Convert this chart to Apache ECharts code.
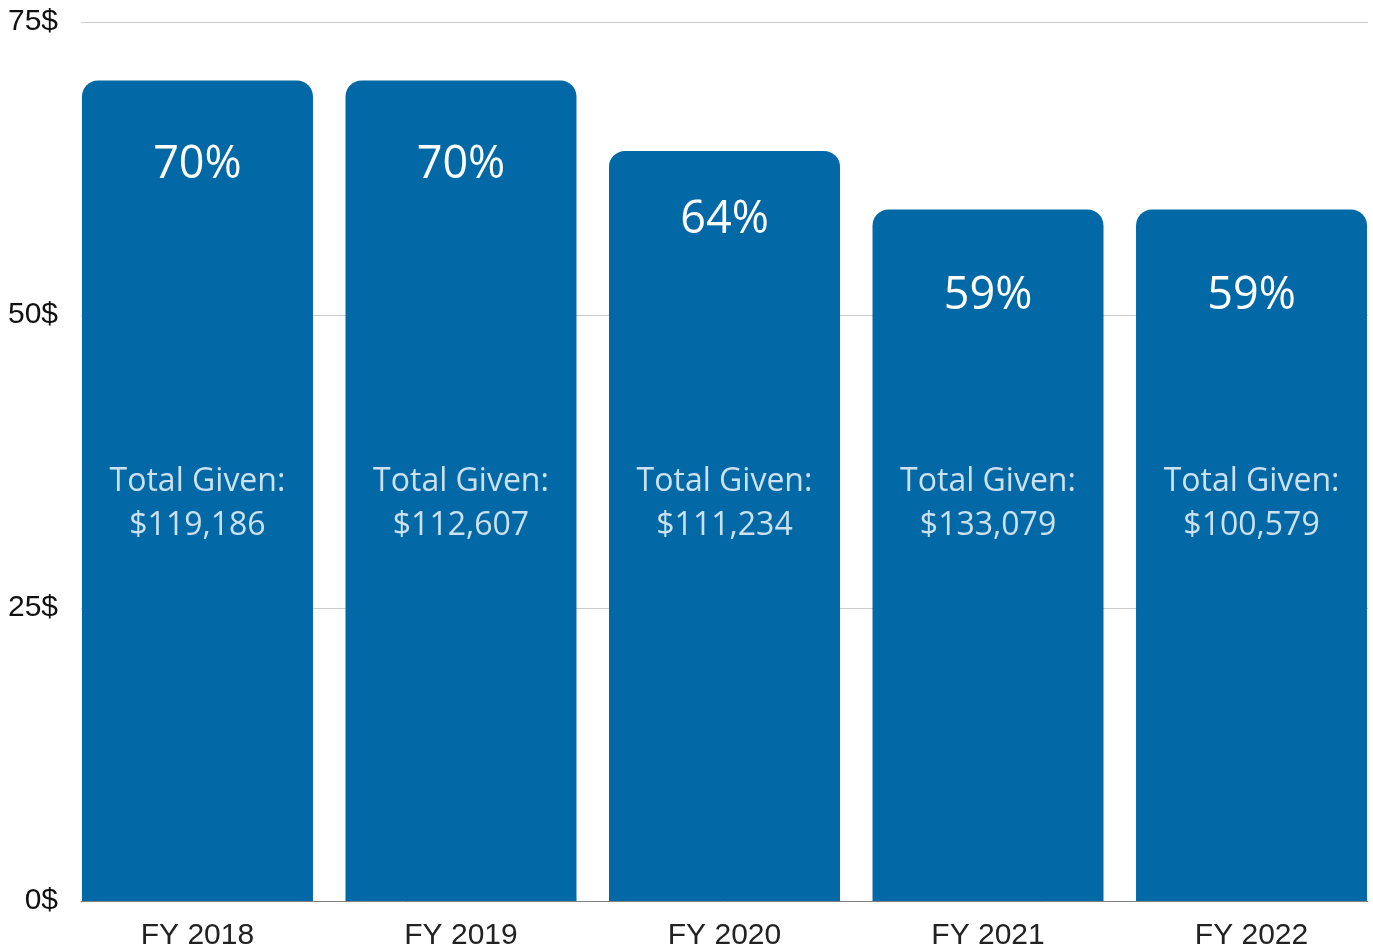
<!DOCTYPE html>
<html>
<head>
<meta charset="utf-8">
<script src="https://cdn.jsdelivr.net/npm/echarts@6/dist/echarts.min.js"></script>
<style>
html,body{margin:0;padding:0;background:#fff;}
#chart{width:1373px;height:947px;}
</style>
</head>
<body>
<div id="chart"></div>
<script>
const categories = ['FY 2018', 'FY 2019', 'FY 2020', 'FY 2021', 'FY 2022'];
const percentValues = [70, 70, 64, 59, 59];
const totalsGiven = ['$119,186', '$112,607', '$111,234', '$133,079', '$100,579'];
const yTicks = [0, 25, 50, 75];

const labelDistances = [62, 62, 46, 64, 64];
const totalAnchor = 33.85;

const chart = echarts.init(document.getElementById('chart'));
const idx = categories.map((c, i) => i);
chart.setOption({
  animation: false,
  grid: { left: 81, right: 5, top: 22, bottom: 46, outerBoundsMode: 'none', containLabel: false },
  xAxis: {
    type: 'value', min: -0.442, max: 4.442,
    splitLine: { show: false },
    axisLine: { show: true, lineStyle: { color: '#808080', width: 1 } },
    axisTick: { show: false },
    axisLabel: {
      customValues: idx,
      formatter: v => categories[Math.round(v)] || '',
      color: '#222', fontSize: 30, fontFamily: 'Liberation Sans, Arial, sans-serif', margin: 20
    }
  },
  yAxis: {
    type: 'value', min: 0, max: 75, interval: 25,
    axisLine: { show: false }, axisTick: { show: false },
    splitLine: { lineStyle: { color: '#cccccc', width: 1 } },
    axisLabel: {
      customValues: yTicks,
      formatter: v => v + '$',
      color: '#111', fontSize: 30, fontFamily: 'Liberation Sans, Arial, sans-serif', margin: 23
    }
  },
  series: [
    {
      type: 'bar',
      barWidth: 231,
      itemStyle: { color: '#0269a6', borderRadius: [16, 16, 0, 0] },
      data: percentValues.map((v, i) => ({
        value: [i, v],
        label: {
          show: true, position: 'insideTop', distance: labelDistances[i],
          formatter: v + '%', color: '#fff', fontSize: 45, lineHeight: 46,
          fontFamily: 'Open Sans, sans-serif'
        }
      })),
      z: 2
    },
    {
      type: 'scatter',
      symbolSize: 0,
      z: 5,
      data: totalsGiven.map((t, i) => ({
        value: [i, totalAnchor],
        label: {
          show: true, position: 'inside',
          formatter: 'Total Given:\n' + t,
          color: '#fff', fontSize: 32, lineHeight: 44,
          fontFamily: 'Open Sans, sans-serif', align: 'center'
        }
      }))
    }
  ]
});
</script>
</body>
</html>
